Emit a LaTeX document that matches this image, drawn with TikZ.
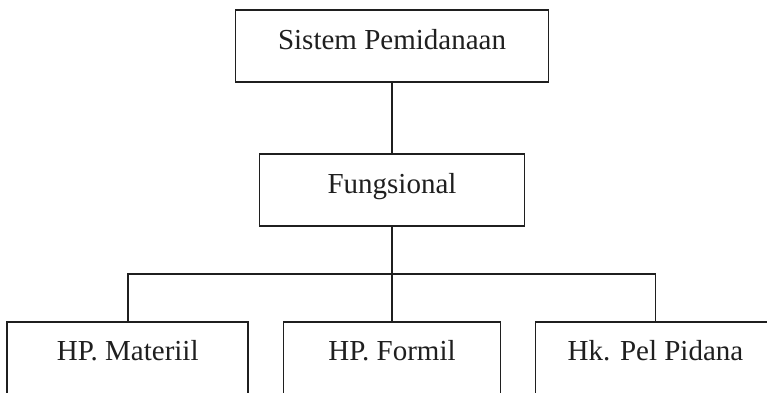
\documentclass[tikz,border=0pt]{standalone}
\usepackage{fontspec}
\setmainfont{Liberation Serif}
\begin{document}
\begin{tikzpicture}[x=1pt,y=-1pt,
  line width=1.8pt,
  box/.style={draw=black!88, line width=1.8pt, inner sep=0pt, anchor=base,
    font=\fontsize{29}{34}\selectfont, text=black!88,
    text height=39pt, text depth=33pt},
  leaf/.style={box, text height=38pt, text depth=40pt},
  link/.style={draw=black!88, line width=1.8pt}]
  \clip (0,0) rectangle (767,392);
  \fill[white] (0,0) rectangle (767,392);

  % hierarchy
  \node[box, minimum width=313pt] (top) at (392,49) {Sistem Pemidanaan};
  \node[box, minimum width=265pt] (fung) at (392,193) {Fungsional};
  \node[leaf, minimum width=241pt] (mat) at (127.7,360) {HP. Materiil};
  \node[leaf, minimum width=217pt] (form) at (392,360) {HP. Formil};
  \node[leaf, minimum width=240pt] (pel) at (655.5,360) {Hk. Pel Pidana};

  \coordinate (bus) at (392,274);

  % connectors
  \draw[link] (top.south) -- (fung.north);
  \draw[link] (fung.south) -- (form.north);
  \draw[link] (mat.north) |- (bus) -| (pel.north);
\end{tikzpicture}
\end{document}
